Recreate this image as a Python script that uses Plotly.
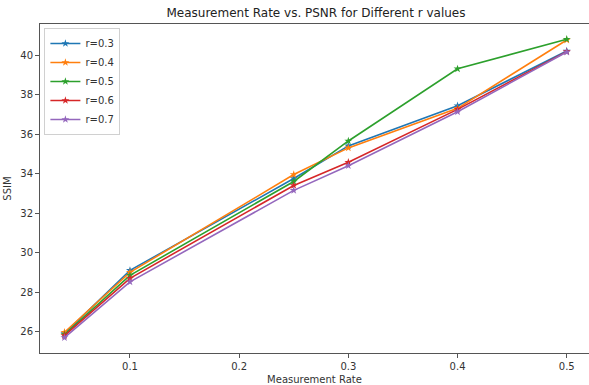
import plotly.graph_objects as go

x_rates = [0.04, 0.1, 0.25, 0.3, 0.4, 0.5]
series_names = ["r=0.3", "r=0.4", "r=0.5", "r=0.6", "r=0.7"]
r03 = [25.9, 29.1, 33.75, 35.4, 37.43, 40.2]
r04 = [25.97, 29.0, 33.95, 35.3, 37.3, 40.76]
r05 = [25.85, 28.85, 33.6, 35.65, 39.3, 40.8]
r06 = [25.8, 28.7, 33.4, 34.57, 37.25, 40.17]
r07 = [25.7, 28.52, 33.15, 34.4, 37.13, 40.15]
colors = ["#1f77b4", "#ff7f0e", "#2ca02c", "#d62728", "#9467bd"]
x_ticks = [0.1, 0.2, 0.3, 0.4, 0.5]
y_ticks = [26, 28, 30, 32, 34, 36, 38, 40]

fig = go.Figure()
for name, ys, c in zip(series_names, [r03, r04, r05, r06, r07], colors):
    fig.add_trace(go.Scatter(
        x=x_rates, y=ys, name=name, mode="lines+markers",
        line=dict(color=c, width=1.6),
        marker=dict(symbol="star", size=6, color=c),
    ))

font = "DejaVu Sans, Liberation Sans, sans-serif"
fig.update_layout(
    width=589, height=385,
    margin=dict(l=40, r=0, t=24, b=32),
    paper_bgcolor="white", plot_bgcolor="white",
    font=dict(family=font, size=10, color="#333"),
    title=dict(text="Measurement Rate vs. PSNR for Different r values",
               x=316 / 589, xanchor="center", y=1 - 13 / 385, yanchor="middle",
               font=dict(size=12, color="#222")),
    showlegend=True,
    legend=dict(x=0.008, y=0.988, xanchor="left", yanchor="top",
                bgcolor="rgba(255,255,255,0.8)", bordercolor="#d0d0d0", borderwidth=1,
                font=dict(size=10, color="#333"), itemwidth=30, tracegroupgap=0),
)
fig.update_xaxes(
    range=[0.0176, 0.5204], tickvals=x_ticks, ticktext=[str(v) for v in x_ticks],
    showgrid=False, zeroline=False, showline=True, linecolor="#555", linewidth=1,
    mirror=True, ticks="outside", ticklen=4, tickcolor="#555",
    title=dict(text="Measurement Rate", standoff=4, font=dict(size=10)),
)
fig.update_yaxes(
    range=[24.92, 41.57], tickvals=y_ticks,
    showgrid=False, zeroline=False, showline=True, linecolor="#555", linewidth=1,
    ticks="outside", ticklen=4, tickcolor="#555",
    title=dict(text="SSIM", standoff=6, font=dict(size=10)),
)
fig.write_html("out.html", config={"displayModeBar": False},
               post_script="document.body.style.margin='0';document.body.style.overflow='hidden';")
